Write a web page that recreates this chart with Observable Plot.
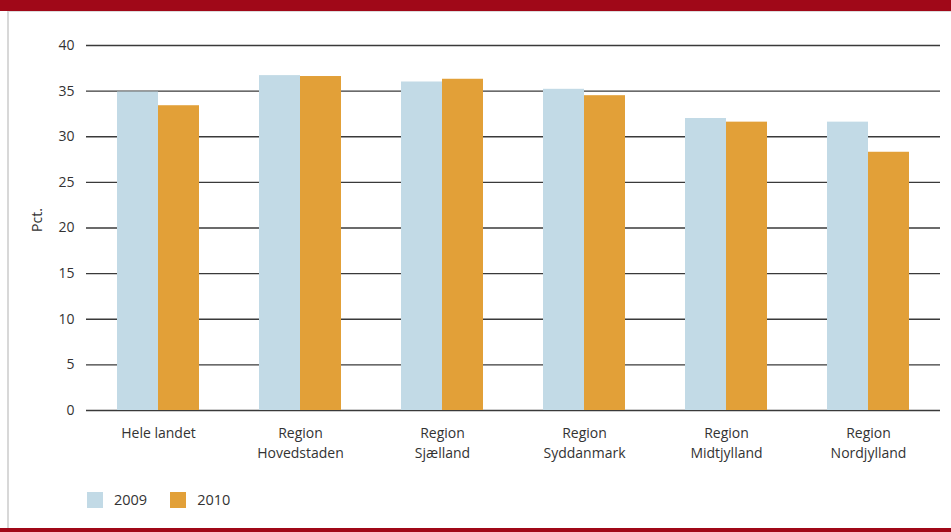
<!DOCTYPE html>
<html>
<head>
<meta charset="utf-8">
<script src="https://cdn.jsdelivr.net/npm/d3@7"></script>
<script src="https://cdn.jsdelivr.net/npm/@observablehq/plot@0.6"></script>
<style>
  html, body { margin: 0; padding: 0; background: #fff; }
  #wrap { position: relative; width: 951px; height: 532px; overflow: hidden; font-family: "Open Sans", sans-serif; color: #333; }
  #topbar { position: absolute; left: 0; top: 0; width: 951px; height: 11px; background: #a00818; }
  #topline { position: absolute; left: 7px; top: 11px; width: 944px; height: 1px; background: #dcdcdc; }
  #leftline { position: absolute; left: 7px; top: 11px; width: 1.5px; height: 517px; background: #d8d8d8; }
  #botbar { position: absolute; left: 0; top: 528px; width: 951px; height: 4px; background: #a00818; }
  .layer { position: absolute; left: 0; top: 0; }
  #ylabel { position: absolute; left: 36px; top: 220px; transform: translate(-50%, -50%) rotate(-90deg); font-size: 14px; white-space: nowrap; }
  #legend { position: absolute; left: 87px; top: 490px; display: flex; align-items: center; font-size: 14.5px; }
  .sw { width: 16px; height: 16px; display: inline-block; }
  .item { display: flex; align-items: center; margin-right: 23px; }
  .item span.t { margin-left: 11px; }
</style>
</head>
<body>
<div id="wrap">
  <div id="topbar"></div>
  <div id="topline"></div>
  <div id="leftline"></div>
  <div id="bg" class="layer"></div>
  <div id="fg" class="layer"></div>
  <div id="ylabel">Pct.</div>
  <div id="legend"></div>
  <div id="botbar"></div>
</div>
<script>
const regions = ["Hele landet", "Region\nHovedstaden", "Region\nSjælland", "Region\nSyddanmark", "Region\nMidtjylland", "Region\nNordjylland"];
const years = ["2009", "2010"];
const values2009 = [34.9, 36.7, 36.0, 35.2, 32.0, 31.6];
const values2010 = [33.4, 36.6, 36.3, 34.5, 31.6, 28.3];
const yTicks = [0, 5, 10, 15, 20, 25, 30, 35, 40];
const colors = ["#c2dae6", "#e2a038"];

const data = [];
regions.forEach((r, i) => {
  data.push({region: r, year: years[0], value: values2009[i]});
  data.push({region: r, year: years[1], value: values2010[i]});
});

const common = {
  width: 951,
  height: 480,
  marginTop: 45,
  marginBottom: 70,
  marginLeft: 86,
  marginRight: 11,
  style: {fontFamily: "Open Sans, sans-serif", fontSize: "14px", color: "#333", background: "transparent", overflow: "visible"}
};

const bg = Plot.plot({
  ...common,
  y: {domain: [0, 40]},
  marks: [
    Plot.ruleY(yTicks, {stroke: "#3a3a3a", strokeWidth: 1.3}),
    Plot.axisY(yTicks, {tickSize: 0, tickPadding: 12, label: null, fontSize: 14, fill: "#333"})
  ]
});
document.getElementById("bg").appendChild(bg);

const fg = Plot.plot({
  ...common,
  fx: {domain: regions, paddingInner: 0.424, paddingOuter: 0.212, label: null},
  x: {domain: years, padding: 0, axis: null},
  y: {domain: [0, 40], axis: null},
  color: {domain: years, range: colors},
  marks: [
    Plot.barY(data, {fx: "region", x: "year", y: "value", fill: "year"}),
    Plot.axisFx({anchor: "bottom", tickSize: 0, tickPadding: 14, lineHeight: 1.4, fontSize: 14, fill: "#333", label: null})
  ]
});
document.getElementById("fg").appendChild(fg);

const legend = document.getElementById("legend");
years.forEach((y, i) => {
  const it = document.createElement("div");
  it.className = "item";
  it.innerHTML = `<span class="sw" style="background:${colors[i]}"></span><span class="t">${y}</span>`;
  legend.appendChild(it);
});
</script>
</body>
</html>
